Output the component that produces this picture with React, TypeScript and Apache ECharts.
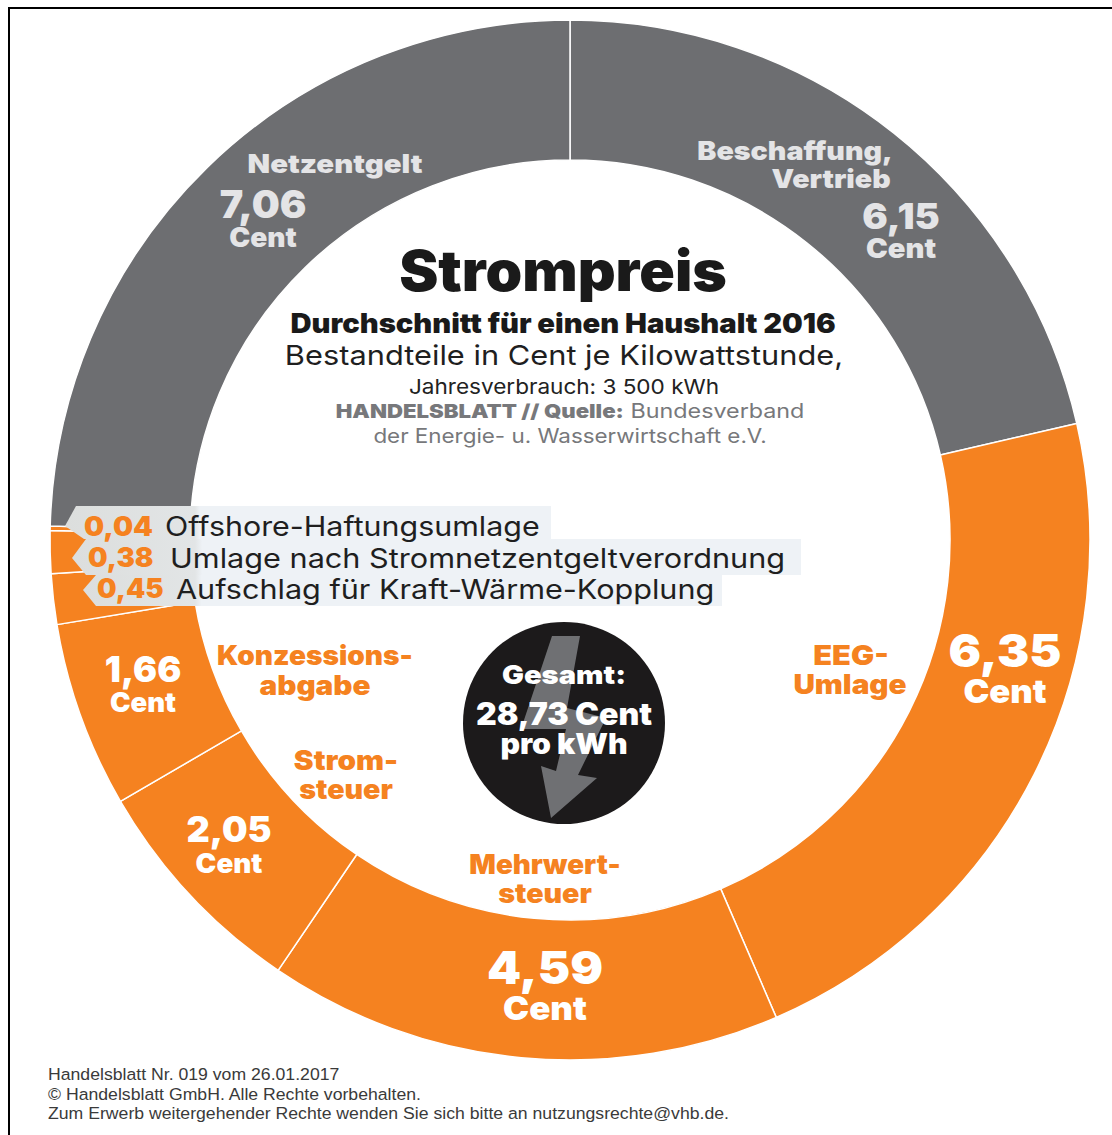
import React, { useEffect, useRef } from "react";
import * as echarts from "echarts";

const W = 1112;
const H = 1135;

// Price components in cent per kWh, clockwise from twelve o'clock
const componentNames = [
  "Beschaffung, Vertrieb",
  "EEG-Umlage",
  "Mehrwertsteuer",
  "Stromsteuer",
  "Konzessionsabgabe",
  "Aufschlag für Kraft-Wärme-Kopplung",
  "Umlage nach Stromnetzentgeltverordnung",
  "Offshore-Haftungsumlage",
  "Netzentgelt",
];
const componentCents = [6.15, 6.35, 4.59, 2.05, 1.66, 0.45, 0.38, 0.04, 7.06];
const componentColors = ["#6d6e71", "#f58220", "#f58220", "#f58220", "#f58220", "#f58220", "#f58220", "#f58220", "#6d6e71"];
const totalCents = 28.73;

const footerLines = [
  "Handelsblatt Nr. 019 vom 26.01.2017",
  "© Handelsblatt GmbH. Alle Rechte vorbehalten.",
  "Zum Erwerb weitergehender Rechte wenden Sie sich bitte an nutzungsrechte@vhb.de.",
];

const HEAVY = "Inter, 'Noto Sans', sans-serif";
const fmt = (v: number) => v.toFixed(2).replace(".", ",");

const ORANGE = "#f58220";
const SOFT = "#e4e4e6";
const INK = "#1f1f1f";
const MUTED = "#77787b";

// Inter is narrower than the display face, so texts carry a horizontal stretch
function txt(
  text: string,
  x: number,
  y: number,
  fontSize: number,
  fill: string,
  opts: { sx?: number; weight?: number | string; family?: string; align?: string; rich?: any } = {},
) {
  return {
    type: "text",
    z: 20,
    silent: true,
    x,
    y,
    scaleX: opts.sx ?? 1,
    style: {
      text,
      fontSize,
      fill,
      fontWeight: opts.weight ?? 900,
      fontFamily: opts.family ?? HEAVY,
      textAlign: opts.align ?? "center",
      textVerticalAlign: "middle",
      rich: opts.rich,
    },
  };
}

// Amount above its unit, kept as a single text block
function amount(value: number, x: number, yValue: number, yUnit: number, valueSize: number, unitSize: number, fill: string, sx: number) {
  const pitch = yUnit - yValue;
  const rich = {
    v: { fontSize: valueSize, fontWeight: 900, fontFamily: HEAVY, fill, lineHeight: pitch, align: "center" },
    c: { fontSize: unitSize, fontWeight: 900, fontFamily: HEAVY, fill, lineHeight: pitch, align: "center" },
  };
  return txt(`{v|${fmt(value)}}\n{c|Cent}`, x, (yValue + yUnit) / 2, valueSize, fill, { sx, rich });
}

// One row of the small-component legend: a chevron-ended strip running over the ring
function strip(points: number[][]) {
  const xs = points.map((p) => p[0]);
  const minX = Math.min(...xs);
  const maxX = Math.max(...xs);
  const fadeEnd = Math.min(1, (195 - minX) / (maxX - minX));
  return {
    type: "polygon",
    z: 10,
    silent: true,
    shape: { points },
    style: {
      fill: new echarts.graphic.LinearGradient(0, 0, 1, 0, [
        { offset: 0, color: "#dcdedd" },
        { offset: fadeEnd, color: "#e2e5e6" },
        { offset: Math.min(1, fadeEnd + 0.01), color: "#eef2f6" },
        { offset: 1, color: "#eef2f6" },
      ]),
    },
  };
}

function buildOption() {
  const [beschaffung, eeg, mwst, strom, konz, kwk, stromnev, offshore, netz] = componentCents;
  return {
    animation: false,
    backgroundColor: "#ffffff",
    series: [
      {
        type: "pie",
        silent: true,
        center: [570, 540],
        radius: [380, 520],
        startAngle: 90,
        clockwise: true,
        sort: null,
        minAngle: 0,
        percentPrecision: 4,
        label: { show: false },
        labelLine: { show: false },
        itemStyle: { borderColor: "#ffffff", borderWidth: 1.5 },
        data: componentNames.map((name, i) => ({
          name,
          value: componentCents[i],
          itemStyle: { color: componentColors[i] },
        })),
      },
    ],
    graphic: [
      // Frame along the top and left edge
      { type: "line", z: 30, silent: true, shape: { x1: 8, y1: 8, x2: W, y2: 8 }, style: { stroke: "#000", lineWidth: 2 } },
      { type: "line", z: 30, silent: true, shape: { x1: 9, y1: 7, x2: 9, y2: H }, style: { stroke: "#000", lineWidth: 2 } },

      // Headline block
      txt("Strompreis", 563, 271, 56, "#1a1a1a", { sx: 1.05 }),
      txt("Durchschnitt für einen Haushalt 2016", 563, 323, 27, "#1a1a1a", { sx: 1.08 }),
      txt("Bestandteile in Cent je Kilowattstunde,", 564, 355, 27.5, INK, { weight: 400, sx: 1.12 }),
      txt("Jahresverbrauch: 3 500 kWh", 564, 386, 20.5, "#222", { weight: 400, sx: 1.1 }),
      txt("{b|HANDELSBLATT // Quelle:} {n|Bundesverband}", 570, 411, 20, MUTED, {
        weight: 400,
        sx: 1.165,
        rich: {
          b: { fontFamily: HEAVY, fontWeight: 900, fontSize: 19, fill: MUTED },
          n: { fontFamily: HEAVY, fontWeight: 400, fontSize: 20, fill: MUTED },
        },
      }),
      txt("der Energie- u. Wasserwirtschaft e.V.", 570, 435, 20, MUTED, { weight: 400, sx: 1.12 }),

      // Grey segments
      txt("Netzentgelt", 335, 164, 26, SOFT, { sx: 1.13 }),
      amount(netz, 263, 204, 237, 38, 27, SOFT, 1.04),
      txt("Beschaffung,", 795, 151, 26, SOFT, { sx: 1.1 }),
      txt("Vertrieb", 831, 179, 26, SOFT, { sx: 1.1 }),
      amount(beschaffung, 901, 216, 248, 35, 27, SOFT, 1.08),

      // Orange segments
      amount(eeg, 1005, 650, 691, 46, 33, "#ffffff", 1.05),
      txt("EEG-", 851, 655, 27, ORANGE, { sx: 1.14 }),
      txt("Umlage", 850, 684, 27, ORANGE, { sx: 1.1 }),
      amount(mwst, 545, 967, 1008, 46, 33, "#ffffff", 1.06),
      txt("Mehrwert-", 545, 864, 27, ORANGE, { sx: 1.03 }),
      txt("steuer", 545, 893, 27, ORANGE, { sx: 1.06 }),
      amount(strom, 229, 830, 863, 35, 27, "#ffffff", 1.03),
      txt("Strom-", 346, 760, 27, ORANGE, { sx: 1.1 }),
      txt("steuer", 346, 789, 27, ORANGE, { sx: 1.06 }),
      amount(konz, 143, 670, 703, 35, 27, "#ffffff", 1.02),
      txt("Konzessions-", 315, 655, 27, ORANGE, { sx: 1.04 }),
      txt("abgabe", 315, 685, 27, ORANGE, { sx: 1.1 }),

      // Strips for the three smallest components
      strip([[76, 506], [551, 506], [551, 539], [84, 539], [65, 526]]),
      strip([[86, 539], [801, 539], [801, 575], [86, 575], [72, 558]]),
      strip([[96, 575], [722, 575], [722, 606], [96, 606], [83, 590]]),
      txt(fmt(offshore), 84, 526, 27, ORANGE, { align: "left", sx: 1.05 }),
      txt(componentNames[7], 165, 526, 27, INK, { align: "left", weight: 400, sx: 1.126 }),
      txt(fmt(stromnev), 88, 558, 27, ORANGE, { align: "left", sx: 1.02 }),
      txt(componentNames[6], 170, 558, 27, INK, { align: "left", weight: 400, sx: 1.135 }),
      txt(fmt(kwk), 97, 589, 27, ORANGE, { align: "left", sx: 1.02 }),
      txt(componentNames[5], 176, 589, 27, INK, { align: "left", weight: 400, sx: 1.133 }),

      // Total badge with lightning bolt
      { type: "circle", z: 12, silent: true, shape: { cx: 564, cy: 723, r: 101 }, style: { fill: "#1c1a1b" } },
      {
        type: "polygon",
        z: 13,
        silent: true,
        shape: {
          points: [
            [552, 636], [580, 636], [567, 708], [606, 718], [578, 775], [597, 778],
            [551, 818], [541, 766], [556, 771], [566, 729], [521, 729],
          ],
        },
        style: { fill: "#6f7073" },
      },
      txt("Gesamt:", 564, 675, 26, "#ffffff", { sx: 1.12 }),
      txt(`${fmt(totalCents)} Cent`, 564, 714, 31, "#ffffff", { sx: 1.035 }),
      txt("pro kWh", 564, 744, 28, "#ffffff", { sx: 1.08 }),

      // Imprint
      ...footerLines.map((line, i) =>
        txt(line, 48, 1075 + i * 19.2, 16.5, "#3a3a3a", { align: "left", weight: 400, family: "'Liberation Sans', Arial, sans-serif", sx: 1.07 }),
      ),
    ],
  };
}

export default function App() {
  const ref = useRef<HTMLDivElement>(null);
  useEffect(() => {
    const chart = echarts.init(ref.current!, undefined, { renderer: "svg" });
    chart.setOption(buildOption() as any);
    return () => chart.dispose();
  }, []);
  return <div ref={ref} style={{ position: "absolute", left: 0, top: 0, width: W, height: H }} />;
}
